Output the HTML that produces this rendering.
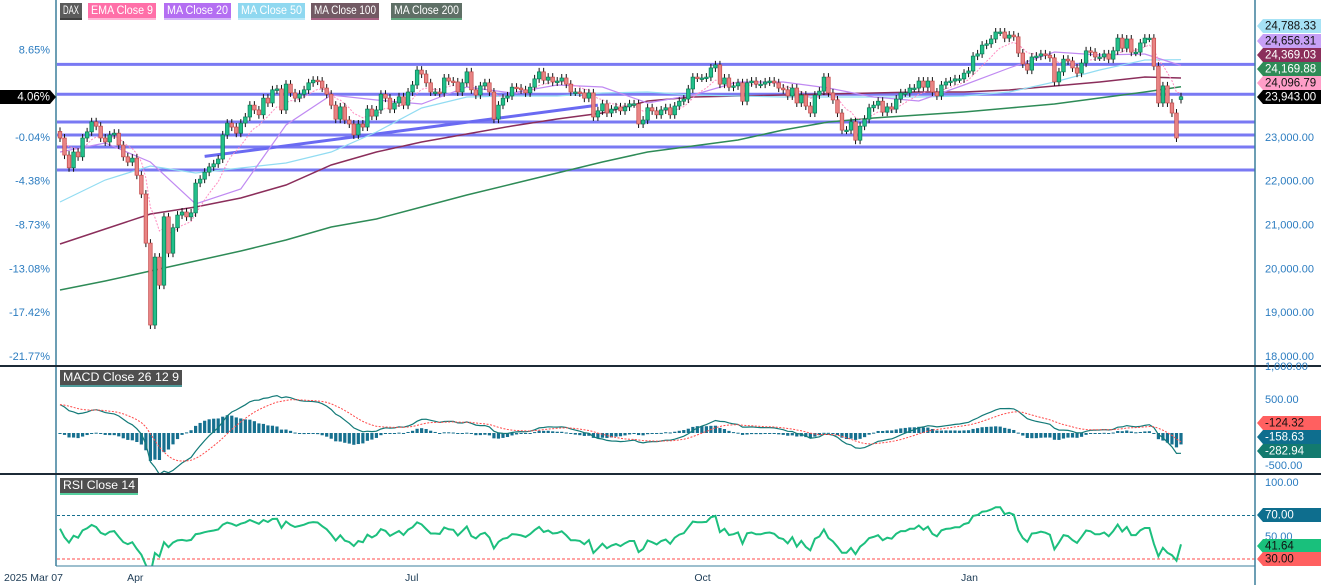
<!DOCTYPE html>
<html><head><meta charset="utf-8"><style>
html,body{margin:0;padding:0;background:#fff;overflow:hidden;}
svg{display:block;font-family:"Liberation Sans",sans-serif;overflow:hidden;}
</style></head><body>
<svg id="chart" width="1321" height="585" viewBox="0 0 1321 585" xmlns="http://www.w3.org/2000/svg">
<defs>
<clipPath id="cMain"><rect x="57" y="0" width="1198" height="365"/></clipPath>
<clipPath id="cMacd"><rect x="57" y="368" width="1198" height="105"/></clipPath>
<clipPath id="cRsi"><rect x="57" y="476" width="1198" height="90"/></clipPath>
</defs>
<g id="gMain" clip-path="url(#cMain)"></g>
<g id="gMacd" clip-path="url(#cMacd)"></g>
<g id="gRsi" clip-path="url(#cRsi)"></g>
<g id="gAxes"></g>
</svg>
<script>
const closes=[23000,22610,22320,22680,22570,23000,23140,23370,23270,23000,22910,23070,23110,22840,22570,22450,22540,22150,21720,20600,18730,20280,19640,21200,20370,20950,21240,21310,21200,21290,21970,22060,22220,22340,22410,22520,23070,23340,23250,23110,23340,23480,23750,23640,23530,23910,23800,24100,24120,23640,24230,24030,23910,24000,24100,24260,24320,24300,24140,24000,23750,23430,23710,23410,23320,23070,23320,23250,23660,
23500,23640,24000,23910,23660,23800,23940,23750,24050,24210,24550,24460,24260,24050,24050,24030,24370,24300,24280,24050,24260,24510,24100,23980,24190,24260,24050,23430,23750,23910,23960,24160,24140,24100,24030,24160,24350,24510,24320,24390,24280,24300,24370,24230,24050,24050,24030,23910,24030,23480,23620,23780,23570,23660,23710,23620,23710,23780,23780,23320,23410,23690,23620,23530,23640,23690,23530,23730,23840,23890,24120,24390,24370,
24370,24390,24600,24670,24230,24370,24160,24190,24260,23840,24260,24300,24230,24230,24280,24300,24260,24140,24100,23960,24140,23800,23980,23730,23570,23980,24070,24390,24030,23870,23570,23180,23180,23370,22950,23270,23430,23690,23750,23840,23590,23710,23660,23890,24030,24030,24140,24140,24300,24160,24300,24050,23960,24210,24280,24300,24350,24350,24480,24530,24870,24920,25120,25150,25260,25420,25420,25280,25350,25310,24940,24690,24550,
24850,24870,24920,24890,24830,24280,24510,24800,24760,24600,24480,24710,24990,24960,24850,24850,24920,24800,24990,25280,25050,25260,24960,24960,25170,25280,25280,24640,23800,24190,23800,23570,23000,23943];
const lastOpen=23880;
const ma20=[22680,22886,22452,21493,21836,23297,23982,23868,23776,24164,24027,24210,24164,23799,23982,24278,24278,24142,23936,23845,24210,24598,24963,24895,24918,24656];
const ma50=[21539,22041,22361,22201,22315,22429,22680,23137,23685,23936,23959,23959,24027,24050,23982,23959,23936,23936,23936,23936,23959,24050,24278,24552,24781,24788];
const ma100=[20580,20923,21265,21425,21630,21927,22384,22680,22909,23091,23274,23434,23571,23845,23936,23959,23982,24005,24027,24050,24050,24096,24187,24278,24393,24369];
const ma200=[19530,19735,19964,20192,20420,20671,20968,21151,21425,21699,21950,22201,22452,22680,22817,22954,23183,23365,23457,23525,23594,23685,23776,23913,24050,24170];
const hLevels=[24680,24000,23365,23068,22795,22270];
const trendStart=[22580,32]; const trendEnd=[23750,119];
const priceTicks=[23000,22000,21000,20000,19000,18000];
const pctTicks=["8.65%","-0.04%","-4.38%","-8.73%","-13.08%","-17.42%","-21.77%"];
const pctTickPrices=[25000,23000,22000,21000,20000,19000,18000];
const macdTicks=[1000,500,-500];
const rsiTicks=[100,50];
const dateLabels=["2025 Mar 07","Apr","Jul","Oct","Jan"];
const dateBars=[0,15.5,77,141,200];

const NS="http://www.w3.org/2000/svg";
const N=closes.length;
const X=i=>60+i*((1181-60)/(N-1));
const Y=p=>138-(p-23000)*0.0438;
const YM=v=>433-v*0.066;
const YR=v=>559-(v-30)*1.086;
function mk(t,a,parent){const e=document.createElementNS(NS,t);for(const k in a)e.setAttribute(k,a[k]);parent.appendChild(e);return e;}
const gM=document.getElementById('gMain'),gC=document.getElementById('gMacd'),gR=document.getElementById('gRsi'),gA=document.getElementById('gAxes');

hLevels.forEach(p=>{const l=mk('line',{x1:57,x2:1255,y1:Y(p),y2:Y(p),stroke:'#6a6af2','stroke-width':3,'stroke-opacity':0.9},gM);

});
const tl=mk('line',{x1:X(trendStart[1]),y1:Y(trendStart[0]),x2:X(trendEnd[1]),y2:Y(trendEnd[0]),stroke:'#6a6af2','stroke-width':3},gM);



function sampled(arr,color,w,name){const pts=arr.map((v,k)=>X(Math.min(k*10,N-1)).toFixed(1)+','+Y(v).toFixed(1)).join(' ');
const e=mk('polyline',{points:pts,fill:'none',stroke:color,'stroke-width':w},gM);

}
sampled(ma200,'#2e8b57',1.5,'ma200-line');
sampled(ma100,'#8b2e5b',1.5,'ma100-line');
sampled(ma50,'#92dcf2',1.2,'ma50-line');
sampled(ma20,'#c08af2',1.2,'ma20-line');
let ema=[],e9=closes[0];closes.forEach((c,i)=>{e9=i?c*0.2+e9*0.8:c;ema.push(e9);});
const emaL=mk('polyline',{points:ema.map((v,i)=>X(i).toFixed(1)+','+Y(v).toFixed(1)).join(' '),fill:'none',stroke:'#ff8cc0','stroke-width':1,'stroke-dasharray':'2,1.5'},gM);


closes.forEach((c,i)=>{const o=i===N-1?lastOpen:(i?closes[i-1]:c+150);const up=c>=o;const x=X(i);const t=Y(Math.max(o,c)),b=Y(Math.min(o,c));
const w=mk('line',{x1:x,x2:x,y1:t-4,y2:b+4,stroke:'#111','stroke-width':1},gM);


const r=mk('rect',{x:x-1.8,y:t,width:3.6,height:Math.max(1.5,b-t),fill:up?'#22c08a':'#e88484',stroke:up?'#0b7a55':'#c44a4a','stroke-width':0.7},gM);

});

let e12=22600,e26=22170,sig=430,macd=[],sg=[];
closes.forEach(c=>{e12=c*2/13+e12*11/13;e26=c*2/27+e26*25/27;const m=e12-e26;sig=m*0.2+sig*0.8;macd.push(m);sg.push(sig);});
macd.forEach((m,i)=>{const h=m-sg[i];const r=mk('rect',{x:X(i)-1.6,y:Math.min(YM(0),YM(h)),width:3.2,height:Math.max(1,Math.abs(YM(h)-YM(0))),fill:'#16708f'},gC);

});
const ml=mk('polyline',{points:macd.map((v,i)=>X(i).toFixed(1)+','+YM(v).toFixed(1)).join(' '),fill:'none',stroke:'#137a78','stroke-width':1.2},gC);


const sl=mk('polyline',{points:sg.map((v,i)=>X(i).toFixed(1)+','+YM(v).toFixed(1)).join(' '),fill:'none',stroke:'#ff4a4a','stroke-width':1,'stroke-dasharray':'2,1.5'},gC);



let ag=110,al=80,rsi=[];
closes.forEach((c,i)=>{if(i){const d=c-closes[i-1];ag=(ag*13+Math.max(d,0))/14;al=(al*13+Math.max(-d,0))/14;}rsi.push(100-100/(1+ag/al));});
[[70,'#16708f'],[30,'#ff4a4a']].forEach(([v,c])=>{const l=mk('line',{x1:57,x2:1255,y1:YR(v),y2:YR(v),stroke:c,'stroke-width':1,'stroke-dasharray':'3,2'},gR);

});
const rl=mk('polyline',{points:rsi.map((v,i)=>X(i).toFixed(1)+','+YR(v).toFixed(1)).join(' '),fill:'none',stroke:'#1dbf7e','stroke-width':2},gR);



[[56,0,56,566],[1255,0,1255,585]].forEach(a=>{const l=mk('line',{x1:a[0],y1:a[1],x2:a[2],y2:a[3],stroke:'#3b7f9c','stroke-width':1.5},gA);

});
[366,474].forEach(y=>{const l=mk('line',{x1:0,x2:1321,y1:y,y2:y,stroke:'#1c2a36','stroke-width':2},gA);

});
const bl=mk('line',{x1:56,x2:1255,y1:566,y2:566,stroke:'#3b7f9c','stroke-width':1},gA);



function txt(s,x,y,fill,anchor,name,size){const t=mk('text',{x:x,y:y,fill:fill,'font-size':size||11,'text-anchor':anchor||'start','dominant-baseline':'middle'},gA);t.textContent=s;

return t;}
priceTicks.forEach(p=>txt(p.toLocaleString('en-US',{minimumFractionDigits:2}),1265,Y(p),'#2b7cc0','start','price-tick'));
pctTicks.forEach((s,k)=>txt(s,50,Y(pctTickPrices[k]),'#2b7cc0','end','percent-tick'));
macdTicks.forEach(v=>txt(v.toLocaleString('en-US',{minimumFractionDigits:2}),1265,YM(v),'#2b7cc0','start','macd-tick'));
rsiTicks.forEach(v=>txt(v.toFixed(2),1265,YR(v),'#2b7cc0','start','rsi-tick'));
dateLabels.forEach((s,k)=>txt(s,k?X(dateBars[k])-3:4,578,'#1c3b55','start','date-label',10.5));

function badge(s,y,bg,fg,name){const p=mk('path',{d:`M1257 ${y} L1263 ${y-7} H1321 V${y+7} H1263 Z`,fill:bg},gA);


txt(s,1265,y+0.5,fg,'start',name+'-text',11.5);}
badge('24,788.33',26,'#a6e2f5','#111','ma50-badge');
badge('24,656.31',41,'#c7a0f6','#111','ma20-badge');
badge('24,369.03',55,'#8b2e5b','#fff','ma100-badge');
badge('24,169.88',69,'#2e8b57','#fff','ma200-badge');
badge('24,096.79',83,'#ff9ec8','#111','ema9-badge');
badge('23,943.00',97,'#000','#fff','last-price-badge');
badge('-124.32',423,'#ff6060','#111','signal-badge');
badge('-158.63',437,'#0e6e8e','#fff','histogram-badge');
badge('-282.94',451,'#137a6e','#fff','macd-badge');
badge('70.00',515,'#0e6e8e','#fff','rsi-70-badge');
badge('41.64',546,'#19c07c','#111','rsi-badge');
badge('30.00',559,'#ff6060','#111','rsi-30-badge');
const pb=mk('path',{d:'M0 90 H50 L56 97 L50 104 H0 Z',fill:'#000'},gA);


txt('4.06%',50,97.5,'#fff','end','percent-badge-text',11.5);

function legend(s,x,w,bg,line,y,name){const r=mk('rect',{x:x,y:y,width:w,height:15,fill:bg},gA);


const l=mk('line',{x1:x,x2:x+w,y1:y+16,y2:y+16,stroke:line,'stroke-width':1.5},gA);


const t=txt(s,x+3,y+8,'#fff','start',name+'-text',11.5);
t.setAttribute('textLength',w-6);
t.setAttribute('lengthAdjust','spacingAndGlyphs');}
legend('DAX',60,22,'#5b5b5b','#000',3,'legend-dax');
legend('EMA  Close 9',88,68,'#ff6fa8','#ff9ec8',3,'legend-ema9');
legend('MA  Close 20',164,67,'#b46ef2','#c7a0f6',3,'legend-ma20');
legend('MA  Close 50',238,67,'#8fd8f0','#a6e2f5',3,'legend-ma50');
legend('MA  Close 100',311,68,'#725a64','#8b2e5b',3,'legend-ma100');
legend('MA  Close 200',391,71,'#5f6f66','#2e8b57',3,'legend-ma200');
legend('MACD  Close 26 12 9',60,122,'#4f4f4f','#137a78',370,'legend-macd');
legend('RSI  Close 14',60,78,'#4f4f4f','#1dbf7e',478,'legend-rsi');
</script>
</body></html>
